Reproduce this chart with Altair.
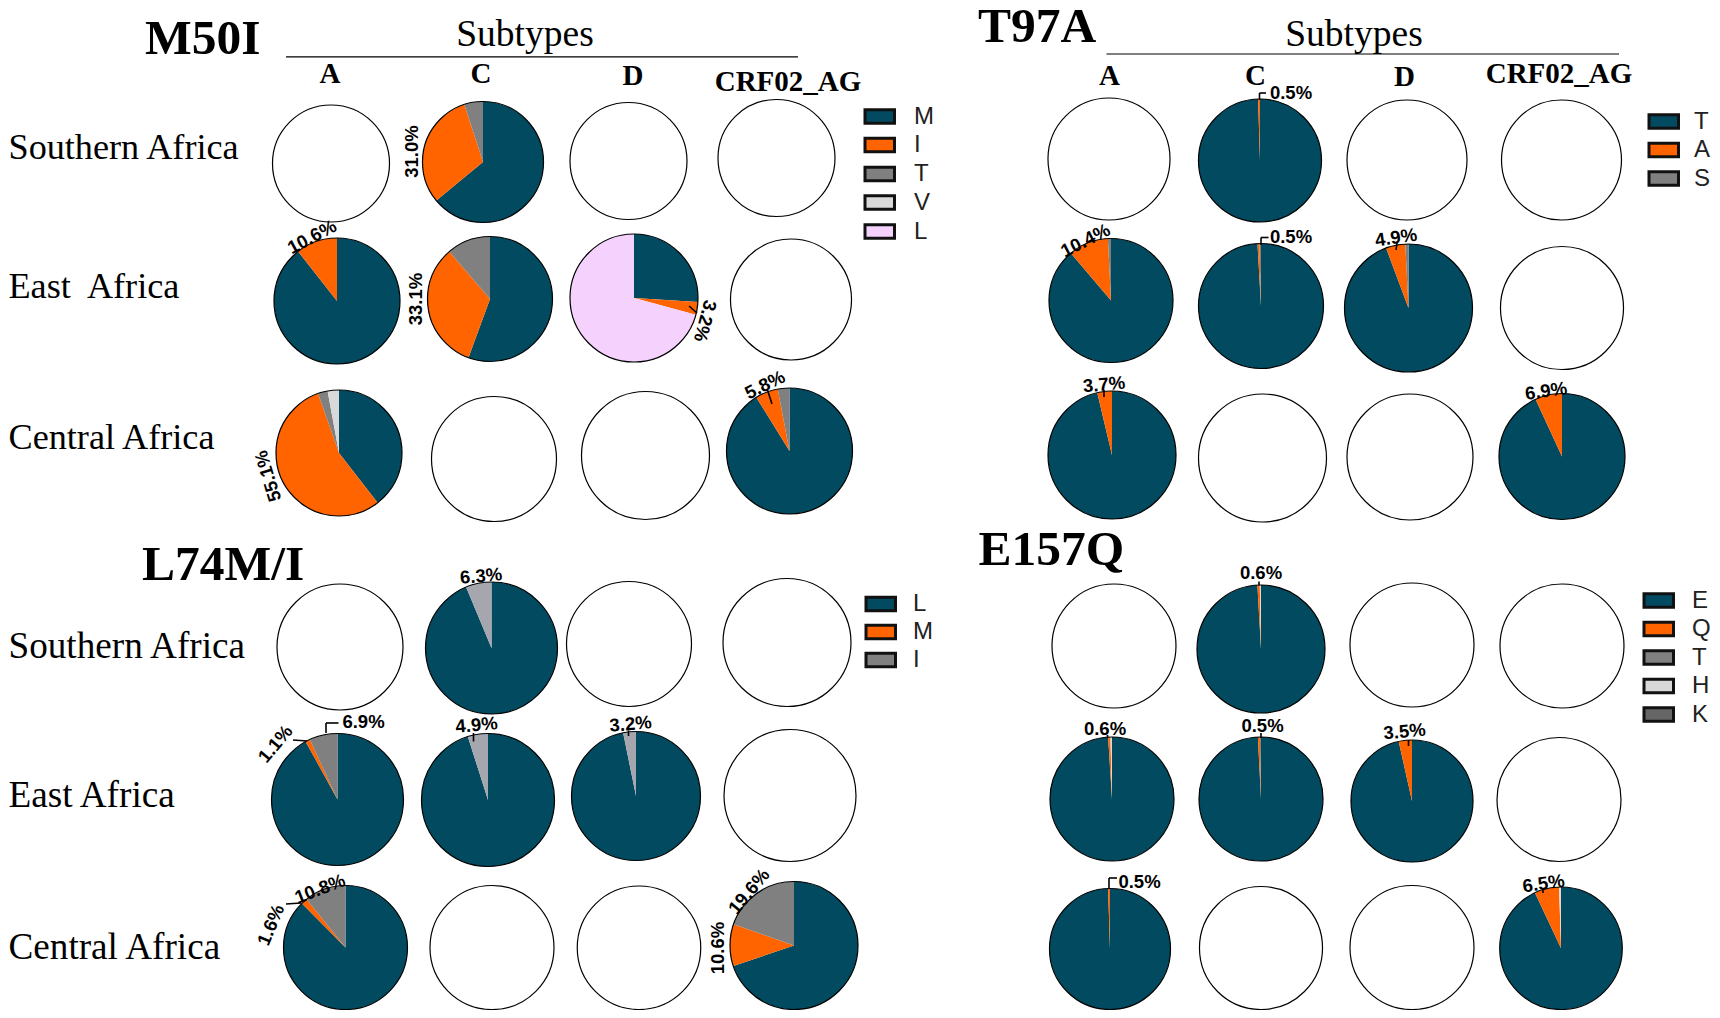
"""Allele share pies per mutation, African region and HIV-1 subtype."""
import math

import altair as alt
import pandas as pd

SUBTYPES = ["A", "C", "D", "CRF02_AG"]
REGIONS = ["Southern Africa", "East Africa", "Central Africa"]

# allele order in each panel, and the tone each allele is drawn in
M50I_ALLELES = ["M", "I", "T", "V", "L"]
M50I_TONES = ["main", "orange", "grey", "pale", "lilac"]
T97A_ALLELES = ["T", "A", "S"]
T97A_TONES = ["main", "orange", "grey"]
L74_ALLELES = ["L", "M", "I"]
L74_TONES = ["main", "orange", "grey"]
E157Q_ALLELES = ["E", "Q", "T", "H", "K"]
E157Q_TONES = ["main", "orange", "grey", "pale", "dark"]

# percent per allele, in allele order; a missing pie is an empty circle
M50I_VALUES = {
    ("Southern Africa", "C"): [64.0, 31.0, 5.0, 0, 0],
    ("East Africa", "A"): [89.4, 10.6, 0, 0, 0],
    ("East Africa", "C"): [55.6, 33.1, 11.3, 0, 0],
    ("East Africa", "D"): [26.0, 3.2, 0, 0, 70.8],
    ("Central Africa", "A"): [39.5, 55.1, 2.5, 2.9, 0],
    ("Central Africa", "CRF02_AG"): [91.2, 5.8, 3.0, 0, 0],
}
T97A_VALUES = {
    ("Southern Africa", "C"): [99.5, 0.5, 0],
    ("East Africa", "A"): [88.8, 10.4, 0.8],
    ("East Africa", "C"): [99.1, 0.5, 0.4],
    ("East Africa", "D"): [94.3, 4.9, 0.8],
    ("Central Africa", "A"): [96.3, 3.7, 0],
    ("Central Africa", "CRF02_AG"): [93.1, 6.9, 0],
}
L74_VALUES = {
    ("Southern Africa", "C"): [93.7, 0, 6.3],
    ("East Africa", "A"): [92.0, 1.1, 6.9],
    ("East Africa", "C"): [95.1, 0, 4.9],
    ("East Africa", "D"): [96.8, 0, 3.2],
    ("Central Africa", "A"): [87.6, 1.6, 10.8],
    ("Central Africa", "CRF02_AG"): [69.8, 10.6, 19.6],
}
E157Q_VALUES = {
    ("Southern Africa", "C"): [99.1, 0.6, 0, 0.3, 0],
    ("East Africa", "A"): [99.0, 0.6, 0, 0.4, 0],
    ("East Africa", "C"): [99.2, 0.5, 0.3, 0, 0],
    ("East Africa", "D"): [96.5, 3.5, 0, 0, 0],
    ("Central Africa", "A"): [99.5, 0.5, 0, 0, 0],
    ("Central Africa", "CRF02_AG"): [93.0, 6.5, 0, 0.5, 0],
}
# these three L74 pies use a paler, bluish grey for I in the original
L74_PALE_I = [("Southern Africa", "C"), ("East Africa", "C"), ("East Africa", "D")]

TONE_NAMES = ["main", "orange", "grey", "pale", "lilac", "dark", "bluegrey"]
TONE_COLORS = ["#024a60", "#ff6400", "#808080", "#d9d9d9", "#f5d2fd", "#666666", "#a6a6ae"]

# layout: pie centres and radii, row by row (picture pixels)
M50I_PIE_X = [[331, 483, 628.5, 776.5], [337, 490, 634, 791], [339, 494, 645.5, 789.5]]
M50I_PIE_Y = [[163.5, 162, 161, 158], [301, 299, 298, 299.5], [453, 459, 455.5, 451]]
M50I_PIE_R = [[58.5, 60.5, 58.5, 58.5], [63, 62.5, 64, 60.5], [63, 62.5, 64, 63]]
T97A_PIE_X = [[1109, 1260, 1407, 1561.5], [1111, 1261, 1408.5, 1562], [1112, 1262.5, 1410, 1562]]
T97A_PIE_Y = [[159, 160.5, 160, 160], [300.5, 306, 308, 308], [455, 458, 457, 456.5]]
T97A_PIE_R = [[61, 61.5, 60, 60], [62, 62.5, 64, 61.5], [64, 64, 63, 63]]
# bottom rows are a touch smaller than drawn so they stay inside the page margin
L74_PIE_X = [[340, 491.5, 629, 787], [337.5, 488, 636, 790], [345.5, 492, 639, 794]]
L74_PIE_Y = [[647, 648, 644, 642.5], [799.5, 800, 796, 795.5], [947.5, 947.5, 947.75, 945.5]]
L74_PIE_R = [[63, 66, 62.5, 64], [66, 66.5, 64.5, 66], [62, 62, 61.75, 64]]
E157Q_PIE_X = [[1114, 1261, 1412, 1562], [1112, 1261, 1412, 1559], [1110, 1261, 1412, 1561]]
E157Q_PIE_Y = [[646, 649, 645, 646], [799, 799, 801, 799.5], [949, 948, 947.5, 948.25]]
E157Q_PIE_R = [[62, 64, 62, 62], [62, 62, 61, 62], [60.5, 61.5, 62, 61.25]]

# percent labels: text, x, y, angle
PCT_LABELS = [
    ("31.0%", 412, 151.5, 270), ("10.6%", 312, 237, 332), ("33.1%", 415.5, 299, 270),
    ("3.2%", 705, 321, 105), ("55.1%", 268, 476, 253), ("5.8%", 765, 385, 334),
    ("0.5%", 1291, 93, 0), ("0.5%", 1291, 236.5, 0), ("10.4%", 1085.5, 240.5, 333),
    ("4.9%", 1396, 237.5, 352), ("3.7%", 1104, 384.5, 355), ("6.9%", 1546, 391, 352),
    ("6.3%", 481, 576, 355), ("6.9%", 363.5, 721.5, 0), ("1.1%", 275.5, 744, 310),
    ("4.9%", 476.5, 725, 355), ("3.2%", 630.5, 724, 355), ("10.8%", 320, 889, 339),
    ("1.6%", 271, 925, 293), ("19.6%", 749, 891.5, 310), ("10.6%", 717.5, 948, 270),
    ("0.6%", 1261, 573, 0), ("0.6%", 1105, 728.5, 0), ("0.5%", 1262.5, 726, 0),
    ("3.5%", 1404.5, 731.5, 355), ("0.5%", 1139.5, 881.5, 0), ("6.5%", 1543.5, 883.5, 352),
]
# short leader strokes from label to slice: x1, y1, x2, y2
LEADERS = [
    (689, 306, 697, 313), (772, 404, 767.5, 390),
    (1259.5, 99.5, 1259.5, 93), (1259.5, 93, 1266, 93),
    (1261, 245, 1261, 237.5), (1261, 237.5, 1268.5, 237.5),
    (1397, 243, 1396, 250), (1104, 390, 1104, 397),
    (326, 733, 326, 723), (326, 723, 338.5, 723), (293, 740, 307, 741),
    (473.5, 733, 473.5, 741.5), (628.5, 730.5, 628.5, 736), (286, 904, 301, 903),
    (1259, 581.5, 1259, 585), (1107.5, 735, 1107.5, 738), (1261, 733, 1261, 738),
    (1408.5, 740, 1408.5, 746), (1109, 888, 1109, 878), (1109, 878, 1117, 878),
    (1543, 889, 1543, 893),
]
HEADER_RULES = [(286, 56.8, 798, 56.8), (1106.5, 54, 1619, 54)]

# mutation titles: text, left x, baseline y (T97A sits lower so the page margin does not cut it)
TITLES = [("M50I", 145, 54), ("T97A", 978, 42), ("L74M/I", 142, 580), ("E157Q", 978.5, 565)]
SUBTYPE_TITLES = [("Subtypes", 525, 45.5), ("Subtypes", 1354, 45.5)]
COLUMN_HEADS = [
    ("A", 330, 82.8), ("C", 481, 82.8), ("D", 633, 84.5), ("CRF02_AG", 788, 91.3),
    ("A", 1109.5, 84.5), ("C", 1255.5, 84.5), ("D", 1404.5, 86.2), ("CRF02_AG", 1559, 82.8),
]
ROW_LABEL_X = 8.5
ROW_LABEL_Y = [[159, 297.5, 449], [657.5, 806.5, 959]]
ROW_NAMES = ["Southern Africa", "East\u00a0 Africa", "Central Africa"]
ROW_NAMES_LOWER = ["Southern Africa", "East Africa", "Central Africa"]

# legend placement: swatch left x, text left x, row centres
M50I_LEGEND = (865, 914, [116.5, 145, 174, 202.5, 231.5])
T97A_LEGEND = (1649, 1694, [121.5, 150, 178.5])
L74_LEGEND = (866, 913, [604, 632, 660])
E157Q_LEGEND = (1644, 1692, [600.5, 629, 657.5, 686, 714.5])
SWATCH_W = 29.5
SWATCH_H = 13.5

X_DOMAIN = [8, 1712]
Y_DOMAIN = [1010, 8]


def pie_rows(alleles, tones, values, xs, ys, rs, pale=()):
    """One row per slice, with cumulative start/end clockwise from 12 o'clock."""
    rows = []
    for (region, subtype), shares in values.items():
        i, j = REGIONS.index(region), SUBTYPES.index(subtype)
        start = 0
        for allele, tone, share in zip(alleles, tones, shares):
            if share > 0:
                if (region, subtype) in pale and allele == "I":
                    tone = "bluegrey"
                rows.append(dict(allele=allele, tone=tone, start=start, end=start + share,
                                 cx=xs[i][j], cy=ys[i][j], r=rs[i][j]))
            start += share
    return rows


def circle_rows(xs, ys, rs):
    return [dict(cx=x, cy=y, r=r, start=0, end=100)
            for xr, yr, rr in zip(xs, ys, rs) for x, y, r in zip(xr, yr, rr)]


def legend_rows(alleles, tones, place):
    x0, tx, ys = place
    return [dict(allele=a, tone=t, x=x0, x2=x0 + SWATCH_W, y=y - SWATCH_H / 2, y2=y + SWATCH_H / 2,
                 tx=tx, ty=y)
            for a, t, y in zip(alleles, tones, ys)]


def px(field):
    return alt.X(field, type="quantitative", scale=alt.Scale(domain=X_DOMAIN), axis=None)


def py(field):
    return alt.Y(field, type="quantitative", scale=alt.Scale(domain=Y_DOMAIN), axis=None)


TONE_SCALE = alt.Scale(domain=TONE_NAMES, range=TONE_COLORS)
THETA_SCALE = alt.Scale(domain=[0, 100], range=[0, 2 * math.pi])

slices = pd.DataFrame(
    pie_rows(M50I_ALLELES, M50I_TONES, M50I_VALUES, M50I_PIE_X, M50I_PIE_Y, M50I_PIE_R)
    + pie_rows(T97A_ALLELES, T97A_TONES, T97A_VALUES, T97A_PIE_X, T97A_PIE_Y, T97A_PIE_R)
    + pie_rows(L74_ALLELES, L74_TONES, L74_VALUES, L74_PIE_X, L74_PIE_Y, L74_PIE_R, L74_PALE_I)
    + pie_rows(E157Q_ALLELES, E157Q_TONES, E157Q_VALUES, E157Q_PIE_X, E157Q_PIE_Y, E157Q_PIE_R)
)
circles = pd.DataFrame(
    circle_rows(M50I_PIE_X, M50I_PIE_Y, M50I_PIE_R)
    + circle_rows(T97A_PIE_X, T97A_PIE_Y, T97A_PIE_R)
    + circle_rows(L74_PIE_X, L74_PIE_Y, L74_PIE_R)
    + circle_rows(E157Q_PIE_X, E157Q_PIE_Y, E157Q_PIE_R)
)
legend = pd.DataFrame(
    legend_rows(M50I_ALLELES, M50I_TONES, M50I_LEGEND)
    + legend_rows(T97A_ALLELES, T97A_TONES, T97A_LEGEND)
    + legend_rows(L74_ALLELES, L74_TONES, L74_LEGEND)
    + legend_rows(E157Q_ALLELES, E157Q_TONES, E157Q_LEGEND)
)
row_labels = pd.DataFrame(
    [dict(text=t, x=ROW_LABEL_X, y=y, size=36.2) for t, y in zip(ROW_NAMES, ROW_LABEL_Y[0])]
    + [dict(text=t, x=ROW_LABEL_X, y=y, size=37.2) for t, y in zip(ROW_NAMES_LOWER, ROW_LABEL_Y[1])]
)
pct = pd.DataFrame(PCT_LABELS, columns=["text", "x", "y", "angle"])
rules = pd.DataFrame(LEADERS, columns=["x", "y", "x2", "y2"])
header_rules = pd.DataFrame(HEADER_RULES, columns=["x", "y", "x2", "y2"])
titles = pd.DataFrame(TITLES, columns=["text", "x", "y"])
subtype_titles = pd.DataFrame(SUBTYPE_TITLES, columns=["text", "x", "y"])
heads = pd.DataFrame(COLUMN_HEADS, columns=["text", "x", "y"])

pie_enc = dict(
    x=px("cx"), y=py("cy"),
    theta=alt.Theta("start:Q", scale=THETA_SCALE), theta2=alt.Theta2("end:Q"),
    radius=alt.Radius("r:Q", scale=None),
)
slice_layer = alt.Chart(slices).mark_arc().encode(
    color=alt.Color("tone:N", scale=TONE_SCALE, legend=None), **pie_enc)
circle_layer = alt.Chart(circles).mark_arc(
    fillOpacity=0, stroke="black", strokeWidth=1.2).encode(**pie_enc)


def text_layer(df, **mark):
    return alt.Chart(df).mark_text(**mark).encode(x=px("x"), y=py("y"), text="text:N")


def rule_layer(df, width):
    return alt.Chart(df).mark_rule(color="black", strokeWidth=width).encode(
        x=px("x"), y=py("y"), x2="x2:Q", y2="y2:Q")


SERIF = "Liberation Serif"
SANS = "Liberation Sans"
chart = alt.layer(
    slice_layer,
    circle_layer,
    rule_layer(rules, 1.6),
    rule_layer(header_rules, 1.2),
    text_layer(titles, font=SERIF, fontWeight="bold", fontSize=49.5, align="left", baseline="alphabetic", color="black"),
    text_layer(subtype_titles, font=SERIF, fontSize=37.5, align="center", baseline="alphabetic", color="black"),
    text_layer(heads, font=SERIF, fontWeight="bold", fontSize=29, align="center", baseline="alphabetic", color="black"),
    alt.Chart(row_labels).mark_text(font=SERIF, align="left", baseline="alphabetic", color="black").encode(
        x=px("x"), y=py("y"), text="text:N", size=alt.Size("size:Q", scale=None)),
    alt.Chart(pct).mark_text(font=SANS, fontWeight="bold", fontSize=18.5, align="center",
                             baseline="middle", color="black").encode(
        x=px("x"), y=py("y"), text="text:N", angle=alt.Angle("angle:Q", scale=None)),
    alt.Chart(legend).mark_rect(stroke="#111111", strokeWidth=3).encode(
        x=px("x"), x2="x2:Q", y=py("y"), y2="y2:Q",
        color=alt.Color("tone:N", scale=TONE_SCALE, legend=None)),
    alt.Chart(legend).mark_text(font=SANS, fontSize=24, align="left", baseline="middle", color="#222222").encode(
        x=px("tx"), y=py("ty"), text="allele:N"),
).properties(
    width=1704, height=1002, padding=0, autosize=alt.AutoSizeParams(type="none")
).configure_view(stroke=None)

chart.save("out.html", embed_options={"renderer": "svg", "actions": False})
